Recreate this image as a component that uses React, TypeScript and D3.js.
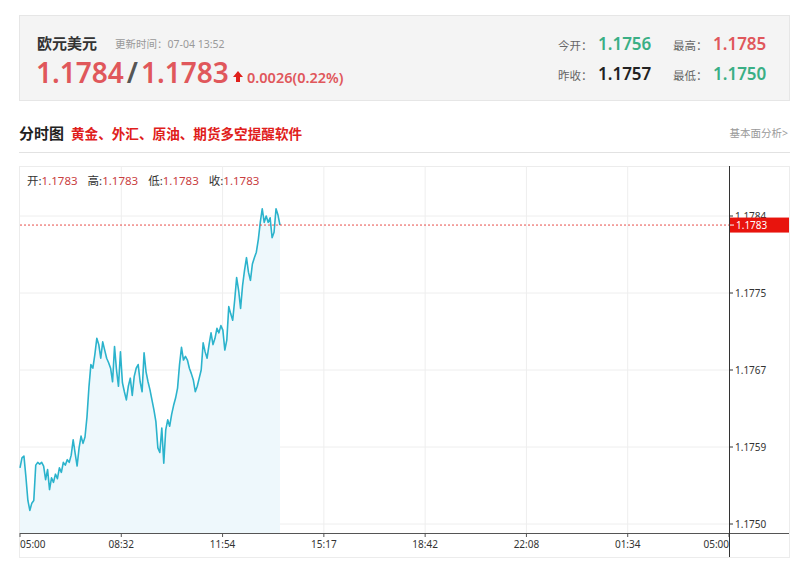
import React from "react";
import * as d3 from "d3";

// price every 4 minutes starting 05:00
const prices = [
  1.17562, 1.17573, 1.17575, 1.17552, 1.17526, 1.17515, 1.17523, 1.17526, 1.17565, 1.17568,
  1.17566, 1.17568, 1.17564, 1.17549, 1.1756, 1.17538, 1.17551, 1.17546, 1.17555, 1.1755,
  1.17562, 1.17557, 1.17568, 1.17565, 1.17571, 1.17568, 1.17576, 1.17593, 1.17578, 1.17564,
  1.17584, 1.17597, 1.17589, 1.17596, 1.17618, 1.17651, 1.17676, 1.17672, 1.17687, 1.17705,
  1.17698, 1.17683, 1.17701, 1.17692, 1.17683, 1.17678, 1.17672, 1.17657, 1.17696, 1.1767,
  1.17652, 1.1769, 1.17656, 1.17646, 1.17637, 1.17652, 1.17661, 1.17642, 1.17663, 1.17672,
  1.17676, 1.17657, 1.17646, 1.17689, 1.17668, 1.17657, 1.17648, 1.17637, 1.17626, 1.17613,
  1.17584, 1.17579, 1.17606, 1.17567, 1.17604, 1.17615, 1.17608, 1.17621, 1.17631, 1.17639,
  1.1765, 1.17676, 1.17695, 1.17681, 1.17685, 1.17681, 1.17672, 1.17666, 1.17659, 1.17646,
  1.17652, 1.17661, 1.1767, 1.177, 1.1769, 1.17683, 1.17698, 1.17711, 1.17698, 1.17705,
  1.17716, 1.17711, 1.17719, 1.17714, 1.17692, 1.17703, 1.1774, 1.17732, 1.17725, 1.17747,
  1.17772, 1.17758, 1.17738, 1.17763, 1.1778, 1.17794, 1.17778, 1.17769, 1.17787, 1.17794,
  1.178, 1.17814, 1.17833, 1.17848, 1.17833, 1.1784, 1.17833, 1.17838, 1.17816, 1.17822,
  1.17848, 1.17841, 1.1783,
];
const stepMinutes = 4;
const dayMinutes = 1440;

const xTickLabels = ["05:00", "08:32", "11:54", "15:17", "18:42", "22:08", "01:34", "05:00"];
const yTickValues = [1.175, 1.17585, 1.1767, 1.17755, 1.1784];
const yTickLabels = ["1.1750", "1.1759", "1.1767", "1.1775", "1.1784"];
const lastPrice = 1.1783;

const ohlcNames = ["开", "高", "低", "收"];
const ohlcValues = ["1.1783", "1.1783", "1.1783", "1.1783"];

const statNames = ["今开", "最高", "昨收", "最低"];
const statValues = ["1.1756", "1.1785", "1.1757", "1.1750"];
const statColors = ["#3aaf85", "#e0575b", "#222222", "#3aaf85"];

const plot = { left: 20, right: 729, top: 166, bottom: 533 };
const FONT = "'Noto Sans', 'Noto Sans CJK SC', sans-serif";
const RED = "#e0575b";

export default function App() {
  const x = d3.scaleLinear().domain([0, dayMinutes]).range([plot.left, plot.right]);
  const y = d3.scaleLinear().domain([1.175, 1.1784]).range([524, 216]);

  const line = d3
    .line<number>()
    .x((_, i) => x(i * stepMinutes))
    .y((d) => y(d));
  const area = d3
    .area<number>()
    .x((_, i) => x(i * stepMinutes))
    .y0(plot.bottom)
    .y1((d) => y(d));

  const xTicks = xTickLabels.map((label, i) => ({
    label,
    pos: x((i * dayMinutes) / (xTickLabels.length - 1)),
    anchor: i === 0 ? "start" : i === xTickLabels.length - 1 ? "end" : "middle",
  }));

  const lastY = y(lastPrice);

  return (
    <svg
      width={800}
      height={574}
      style={{ position: "absolute", left: 0, top: 0, background: "#fff" }}
      fontFamily={FONT}
    >
      {/* quote header */}
      <rect x={19.5} y={15.5} width={770} height={85} fill="#f4f4f4" stroke="#e6e6e6" />
      <text x={37} y={49} fontSize={15} fontWeight={700} fill="#333">欧元美元</text>
      <text x={115} y={48} fontSize={10.5} fill="#999">更新时间：07-04 13:52</text>
      <text x={36} y={83} fontSize={28} fontWeight={600} fill={RED}>
        1.1784
        <tspan fill="#555" dx={3}>/</tspan>
        <tspan dx={3}>1.1783</tspan>
      </text>
      <path d="M238,71 L243,77 L240,77 L240,82 L236,82 L236,77 L233,77 Z" fill="#e0201b" />
      <text x={247} y={83} fontSize={14.5} fontWeight={600} fill={RED}>0.0026(0.22%)</text>

      {statNames.map((name, i) => {
        const col = i % 2;
        const row = Math.floor(i / 2);
        const bx = col === 0 ? 558 : 673;
        const by = row === 0 ? 50 : 80;
        return (
          <g key={name}>
            <text x={bx} y={by} fontSize={11.5} fill="#666">{name}：</text>
            <text x={bx + 40} y={by} fontSize={17} fontWeight={600} fill={statColors[i]}>
              {statValues[i]}
            </text>
          </g>
        );
      })}

      {/* title row */}
      <text x={19} y={139} fontSize={15} fontWeight={700} fill="#222">分时图</text>
      <text x={71} y={139} fontSize={13.6} fontWeight={700} fill="#e0201b">
        黄金、外汇、原油、期货多空提醒软件
      </text>
      <text x={788} y={137} fontSize={10.5} fill="#999" textAnchor="end">基本面分析&gt;</text>
      <line x1={19} x2={790} y1={152.5} y2={152.5} stroke="#e2e2e2" />

      {/* chart frame */}
      <rect x={19.5} y={166.5} width={770} height={391} fill="none" stroke="#ececec" />

      {/* grid */}
      {xTicks.slice(1, -1).map((t) => (
        <line key={t.label} x1={t.pos} x2={t.pos} y1={plot.top} y2={plot.bottom} stroke="#eeeeee" />
      ))}
      {yTickValues.map((v) => (
        <line key={v} x1={plot.left} x2={plot.right} y1={y(v)} y2={y(v)} stroke="#eeeeee" />
      ))}

      {/* price series */}
      <path d={area(prices) ?? ""} fill="#eef8fc" />
      <path d={line(prices) ?? ""} fill="none" stroke="#2bb3cc" strokeWidth={1.6} strokeLinejoin="round" />

      {/* last price line */}
      <line
        x1={plot.left}
        x2={plot.right}
        y1={lastY}
        y2={lastY}
        stroke="#e0201b"
        strokeWidth={0.8}
        strokeDasharray="2,2"
      />

      {/* ohlc */}
      <text x={27} y={185} fontSize={11.5}>
        {ohlcNames.map((n, i) => (
          <tspan key={n} dx={i === 0 ? 0 : 10}>
            <tspan fill="#333">{n}:</tspan>
            <tspan fill="#c9403f">{ohlcValues[i]}</tspan>
          </tspan>
        ))}
      </text>

      {/* x axis */}
      <line x1={plot.left} x2={789} y1={plot.bottom + 0.5} y2={plot.bottom + 0.5} stroke="#555" />
      {xTicks.map((t) => (
        <g key={t.label + t.pos}>
          <line x1={t.pos} x2={t.pos} y1={plot.bottom} y2={plot.bottom + 4} stroke="#555" />
          <text x={t.pos} y={548} fontSize={10} fill="#333" textAnchor={t.anchor}>
            {t.label}
          </text>
        </g>
      ))}

      {/* y axis */}
      <line x1={plot.right + 0.5} x2={plot.right + 0.5} y1={plot.top} y2={557} stroke="#333" />
      {yTickValues.map((v, i) => (
        <g key={v}>
          <line x1={plot.right} x2={plot.right + 4} y1={y(v)} y2={y(v)} stroke="#333" />
          <text x={735} y={y(v)} dy="0.35em" fontSize={10} fill="#333">
            {yTickLabels[i]}
          </text>
        </g>
      ))}
      <rect x={730} y={lastY - 7.5} width={59} height={15} fill="#e8140d" />
      <line x1={730} x2={734} y1={lastY} y2={lastY} stroke="#fff" />
      <text x={736} y={lastY} dy="0.35em" fontSize={10} fill="#fff">
        {lastPrice.toFixed(4)}
      </text>
    </svg>
  );
}
